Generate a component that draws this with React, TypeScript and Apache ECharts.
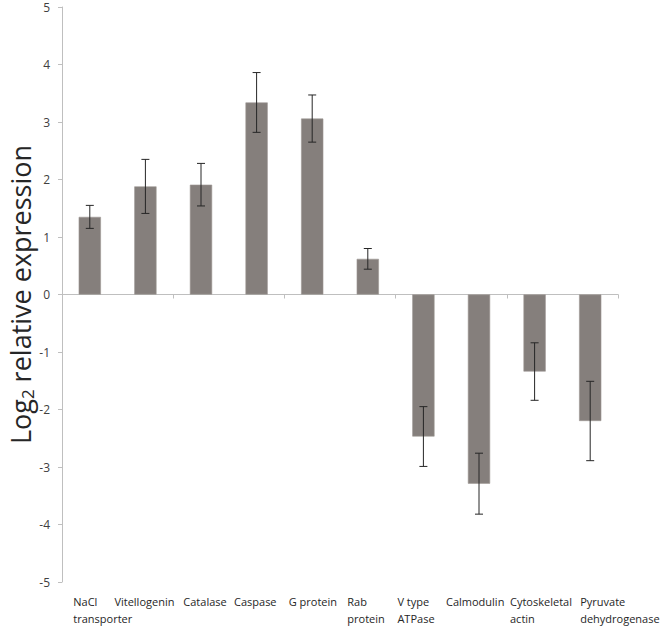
import React, { useEffect, useRef } from "react";
import * as echarts from "echarts";

const categories = [
  "NaCl\ntransporter",
  "Vitellogenin",
  "Catalase",
  "Caspase",
  "G protein",
  "Rab\nprotein",
  "V type\nATPase",
  "Calmodulin",
  "Cytoskeletal\nactin",
  "Pyruvate\ndehydrogenase",
];
const means = [1.35, 1.88, 1.91, 3.34, 3.06, 0.62, -2.47, -3.29, -1.34, -2.2];
const errors = [0.2, 0.47, 0.37, 0.52, 0.41, 0.18, 0.52, 0.53, 0.5, 0.69];

// style: how far each label's left edge sits left of its category centre (px)
const labelIndent = [16.5, 31, 17.7, 22.6, 23.5, 20.5, 26, 33, 24.6, 10];

const FONT = "'Open Sans', 'Noto Sans', sans-serif";
const LABEL_SIZE = 11;

export default function App() {
  const ref = useRef<HTMLDivElement>(null);
  useEffect(() => {
    if (!ref.current) return;
    const chart = echarts.init(ref.current, undefined, { renderer: "svg" });

    const rich: Record<string, any> = {};
    categories.forEach((_c, i) => {
      rich["c" + i] = {
        width: labelIndent[i] * 2,
        align: "left",
        fontSize: LABEL_SIZE,
        fontFamily: FONT,
        color: "#262626",
        lineHeight: 17,
      };
    });

    const errData = means.map((m, i) => [i, m - errors[i], m + errors[i]]);

    chart.setOption({
      animation: false,
      backgroundColor: "#ffffff",
      grid: {
        left: 62,
        right: 44,
        top: 7,
        bottom: 55,
        containLabel: false,
        outerBoundsMode: "none",
      },
      xAxis: [
        {
          type: "category",
          data: categories,
          axisLine: { show: true, onZero: true, lineStyle: { color: "#bfbfbf", width: 1 } },
          axisTick: { show: true, length: 4, inside: false, lineStyle: { color: "#bfbfbf" } },
          axisLabel: { show: false },
          splitLine: { show: false },
        },
        {
          type: "category",
          data: categories,
          position: "bottom",
          axisLine: { show: false, onZero: false },
          axisTick: { show: false },
          splitLine: { show: false },
          axisLabel: {
            show: true,
            interval: 0,
            margin: 11,
            hideOverlap: false,
            formatter: (value: string, idx: number) =>
              value
                .split("\n")
                .map((l) => `{c${idx}|${l}}`)
                .join("\n"),
            rich,
          },
        },
      ],
      yAxis: {
        type: "value",
        min: -5,
        max: 5,
        interval: 1,
        axisLine: { show: true, lineStyle: { color: "#bfbfbf", width: 1 } },
        axisTick: { show: true, length: 4, lineStyle: { color: "#bfbfbf" } },
        splitLine: { show: false },
        axisLabel: {
          fontSize: 12,
          fontFamily: FONT,
          color: "#404040",
          margin: 12,
        },
        name: "{a|Log}{b|2}{a| relative expression}",
        nameLocation: "middle",
        nameGap: 26,
        nameMoveOverlap: false,
        nameRotate: 90,
        nameTextStyle: {
          rich: {
            a: { fontSize: 27, fontFamily: FONT, color: "#262626", lineHeight: 32 },
            b: {
              fontSize: 17,
              fontFamily: FONT,
              color: "#262626",
              verticalAlign: "bottom",
              lineHeight: 32,
              padding: [10, 0, 0, 0],
            },
          },
        },
      },
      series: [
        {
          type: "bar",
          data: means,
          xAxisIndex: 0,
          barWidth: "40%",
          itemStyle: { color: "#857f7c", borderColor: "#9d9794", borderWidth: 0.6 },
        },
        {
          type: "custom",
          xAxisIndex: 0,
          z: 5,
          data: errData,
          renderItem: (params: any, api: any) => {
            const x = api.value(0);
            const lo = api.coord([x, api.value(1)]);
            const hi = api.coord([x, api.value(2)]);
            const hw = 4;
            const style = { stroke: "#262626", lineWidth: 1 };
            return {
              type: "group",
              children: [
                { type: "line", shape: { x1: lo[0], y1: lo[1], x2: hi[0], y2: hi[1] }, style },
                { type: "line", shape: { x1: hi[0] - hw, y1: hi[1], x2: hi[0] + hw, y2: hi[1] }, style },
                { type: "line", shape: { x1: lo[0] - hw, y1: lo[1], x2: lo[0] + hw, y2: lo[1] }, style },
              ],
            };
          },
        },
      ],
    });
    return () => chart.dispose();
  }, []);
  return <div ref={ref} style={{ width: 662, height: 637, position: "absolute", left: 0, top: 0 }} />;
}
